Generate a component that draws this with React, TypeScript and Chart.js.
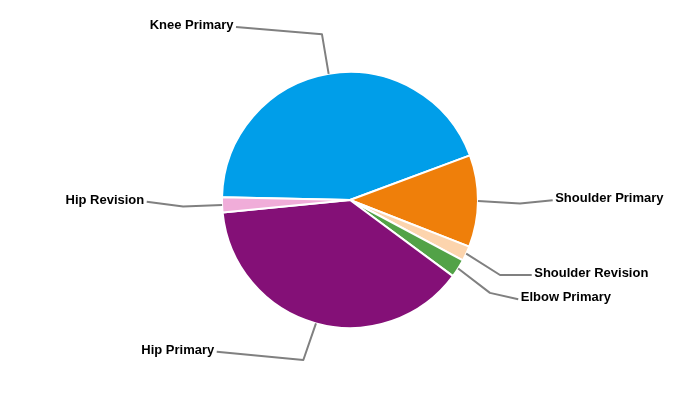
import React, { useEffect, useRef } from "react";
import { Chart, registerables } from "chart.js";

Chart.register(...registerables);

const categories = [
  "Knee Primary",
  "Shoulder Primary",
  "Shoulder Revision",
  "Elbow Primary",
  "Hip Primary",
  "Hip Revision",
];
const values = [44.0, 11.6, 1.9, 2.3, 38.3, 1.9];
const colors = ["#009EE9", "#EF7F0A", "#FCD4AD", "#52A247", "#841077", "#F0ADD9"];

// leader line layout only: [elbow shift x, elbow shift y, end dx, end dy]
const leaderLayout = [
  [0, 0, -86, -7.4],
  [2, 2, 32.7, -3.1],
  [-2.5, 4.6, 31.7, 0],
  [-2, 3, 28.3, 6.4],
  [-2, -2, -86.6, -8.3],
  [1, 0, -36.4, -4.8],
];

const leaderPlugin = {
  id: "leaderLabels",
  afterDatasetsDraw(chart: any) {
    const ctx = chart.ctx;
    const meta = chart.getDatasetMeta(0);
    const labels = chart.data.labels as string[];
    ctx.save();
    ctx.strokeStyle = "#808080";
    ctx.lineWidth = 2;
    ctx.lineJoin = "round";
    ctx.font = "bold 13px Arial, 'Liberation Sans', sans-serif";
    ctx.fillStyle = "#000";
    ctx.textBaseline = "middle";
    meta.data.forEach((arc: any, i: number) => {
      const { x, y, startAngle, endAngle, outerRadius } = arc.getProps(
        ["x", "y", "startAngle", "endAngle", "outerRadius"],
        true
      );
      const mid = (startAngle + endAngle) / 2;
      const c = Math.cos(mid);
      const s = Math.sin(mid);
      const ex = x + c * outerRadius;
      const ey = y + s * outerRadius;
      const [sx, sy, dx, dy] = leaderLayout[i];
      const bx = x + c * (outerRadius + 40) + sx;
      const by = y + s * (outerRadius + 40) + sy;
      const lx = bx + dx;
      const ly = by + dy;
      ctx.beginPath();
      ctx.moveTo(ex, ey);
      ctx.lineTo(bx, by);
      ctx.lineTo(lx, ly);
      ctx.stroke();
      const right = dx > 0;
      ctx.textAlign = right ? "left" : "right";
      ctx.fillText(labels[i], lx + (right ? 2.5 : -2.5), ly - 1.5);
    });
    ctx.restore();
  },
};

export default function App() {
  const ref = useRef<HTMLCanvasElement>(null);
  useEffect(() => {
    document.body.style.margin = "0";
    const chart = new Chart(ref.current!, {
      type: "pie",
      data: {
        labels: categories,
        datasets: [
          {
            data: values,
            backgroundColor: colors,
            borderColor: "#ffffff",
            borderWidth: 2,
          },
        ],
      },
      options: {
        responsive: false,
        animation: false,
        rotation: 271.2,
        layout: { padding: { top: 71, bottom: 71, left: 0, right: 0 } },
        plugins: {
          legend: { display: false },
          tooltip: { enabled: false },
        },
      },
      plugins: [leaderPlugin],
    });
    return () => chart.destroy();
  }, []);
  return (
    <div style={{ width: 700, height: 400, background: "#fff" }}>
      <canvas ref={ref} width={700} height={400} style={{ display: "block" }} />
    </div>
  );
}
